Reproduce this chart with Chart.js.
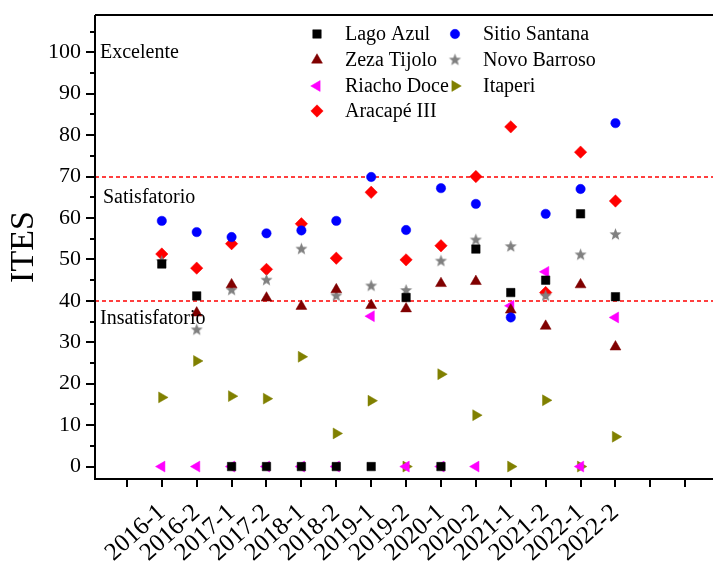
<!DOCTYPE html>
<html><head><meta charset="utf-8">
<script src="https://cdn.jsdelivr.net/npm/chart.js@4.4.1/dist/chart.umd.min.js"></script>
<style>html,body{margin:0;padding:0;background:#fff;overflow:hidden;}#wrap{width:713px;height:562px;}canvas{display:block;}</style>
</head><body><div id="wrap"><canvas id="c" width="713" height="562" style="width:713px;height:562px"></canvas></div>
<script>
// ---- data ----
const categories = ['2016-1','2016-2','2017-1','2017-2','2018-1','2018-2','2019-1','2019-2','2020-1','2020-2','2021-1','2021-2','2022-1','2022-2'];
const lagoAzul     = [48.9, 41.2, 0, 0, 0, 0, 0, 40.8, 0, 52.5, 42.0, 45.0, 61.0, 41.0];
const sitioSantana = [59.3, 56.6, 55.4, 56.3, 57.0, 59.3, 69.9, 57.1, 67.2, 63.4, 36.0, 61.0, 67.0, 82.9];
const zezaTijolo   = [null, 37.1, 43.9, 40.7, 38.7, 42.7, 38.9, 38.1, 44.2, 44.7, 37.8, 33.9, 43.9, 28.9];
const novoBarroso  = [49.5, 33.0, 42.6, 45.0, 52.5, 41.2, 43.6, 42.5, 49.6, 54.7, 53.1, 41.2, 51.1, 56.0];
const riachoDoce   = [0, 0, 0, 0, 0, 0, 36.3, 0, 0, 0, 38.8, 47.0, 0, 36.0];
const itaperi      = [16.7, 25.5, 17.0, 16.4, 26.5, 8.0, 15.9, 0, 22.3, 12.4, 0, 16.0, 0, 7.2];
const aracape      = [51.3, 47.9, 53.8, 47.6, 58.6, 50.3, 66.2, 49.9, 53.3, 70.0, 82.0, 42.0, 75.9, 64.1];
const seriesNames  = ['Lago Azul','Sitio Santana','Zeza Tijolo','Novo Barroso','Riacho Doce','Itaperi','Aracapé III'];
const yTickValues  = [0,10,20,30,40,50,60,70,80,90,100];
const yMinorValues = [5,15,25,35,45,55,65,75,85,95,105];
const xTickValues  = [-1,0,1,2,3,4,5,6,7,8,9,10,11,12,13,14,15];
const thresholds   = [70, 40];
const zoneLabels   = ['Excelente','Satisfatorio','Insatisfatorio'];

const FONT = '"Liberation Serif", "Times New Roman", serif';
Chart.defaults.font.family = FONT;
Chart.defaults.color = '#000';

function makeStar(color, R, r){
  const s = Math.ceil(2*R)+2;
  const c = document.createElement('canvas'); c.width = s; c.height = s;
  const g = c.getContext('2d'); g.fillStyle = color; g.beginPath();
  for(let i=0;i<10;i++){ const rr = i%2 ? r : R; const a = -Math.PI/2 + i*Math.PI/5;
    g.lineTo(s/2 + rr*Math.cos(a), s/2 + rr*Math.sin(a)); }
  g.closePath(); g.fill(); return c;
}
const star = makeStar('#808080', 6.4, 2.7);

const styles = [
  {color:'#000000', pointStyle:'rect', radius:6, rotation:0},
  {color:'#0000ff', pointStyle:'circle', radius:4.7, rotation:0},
  {color:'#800000', pointStyle:'triangle', radius:6.3, rotation:0},
  {color:'#808080', pointStyle:star, radius:6, rotation:0},
  {color:'#ff00ff', pointStyle:'triangle', radius:6.3, rotation:-90},
  {color:'#808000', pointStyle:'triangle', radius:6.3, rotation:90},
  {color:'#ff0000', pointStyle:'rectRot', radius:6.2, rotation:0}
];
const seriesValues = [lagoAzul, sitioSantana, zezaTijolo, novoBarroso, riachoDoce, itaperi, aracape];

const datasets = seriesValues.map((vals, i) => ({
  label: seriesNames[i],
  data: vals.map((v, k) => ({x: k, y: v})),
  pointStyle: styles[i].pointStyle,
  pointRotation: styles[i].rotation,
  pointRadius: styles[i].radius,
  pointHoverRadius: styles[i].radius,
  backgroundColor: styles[i].color,
  borderColor: styles[i].color,
  pointBorderWidth: 0.5,
  showLine: false
}));

const decor = {
  id: 'decor',
  beforeDatasetsDraw(chart){
    const {ctx, chartArea:a, scales:{y}} = chart;
    ctx.save();
    ctx.strokeStyle = 'rgb(255,0,0)'; ctx.lineWidth = 1.5; ctx.setLineDash([4,3]);
    thresholds.forEach(t => { const py = Math.round(y.getPixelForValue(t));
      ctx.beginPath(); ctx.moveTo(a.left, py); ctx.lineTo(chart.width, py); ctx.stroke(); });
    ctx.restore();
  },
  afterDatasetsDraw(chart){
    const {ctx, chartArea:a} = chart;
    ctx.save();
    ctx.fillStyle = '#000'; ctx.font = '20px ' + FONT; ctx.textAlign = 'left'; ctx.textBaseline = 'alphabetic';
    const pos = [[a.left+5, 58],[a.left+8, 203],[a.left+5, 324]];
    zoneLabels.forEach((t, i) => ctx.fillText(t, pos[i][0], pos[i][1]));
    ctx.restore();
  },
  afterDraw(chart){
    const {ctx, chartArea:a, scales:{x, y}} = chart;
    const R = chart.width;
    ctx.save();
    ctx.setLineDash([]);
    ctx.strokeStyle = '#000'; ctx.lineWidth = 2;
    ctx.beginPath();
    ctx.moveTo(a.left, a.top); ctx.lineTo(R, a.top);
    ctx.moveTo(a.left, a.top); ctx.lineTo(a.left, a.bottom);
    ctx.moveTo(a.left - 1, a.bottom); ctx.lineTo(R, a.bottom);
    ctx.stroke();
    ctx.beginPath();
    yTickValues.forEach(v => { const py = Math.round(y.getPixelForValue(v));
      ctx.moveTo(a.left - 9, py); ctx.lineTo(a.left, py); });
    yMinorValues.forEach(v => { const py = Math.round(y.getPixelForValue(v));
      ctx.moveTo(a.left - 5, py); ctx.lineTo(a.left, py); });
    xTickValues.forEach(v => { const px = Math.round(x.getPixelForValue(v));
      ctx.moveTo(px, a.bottom); ctx.lineTo(px, a.bottom + 8); });
    ctx.stroke();
    // legend
    const colMark = [317, 455], colText = [345, 483], rowY = [34, 60, 86, 111];
    ctx.font = '20px ' + FONT; ctx.textAlign = 'left'; ctx.textBaseline = 'middle';
    seriesNames.forEach((name, i) => {
      const c = i % 2, r = Math.floor(i / 2);
      const st = styles[i];
      ctx.fillStyle = st.color; ctx.strokeStyle = st.color; ctx.lineWidth = 0.5;
      Chart.helpers.drawPoint(ctx, {pointStyle: st.pointStyle, rotation: st.rotation, radius: st.radius, borderWidth: 0.5}, colMark[c], rowY[r]);
      ctx.fillStyle = '#000';
      ctx.fillText(name, colText[c], rowY[r] + 1);
    });
    ctx.restore();
  }
};

new Chart(document.getElementById('c'), {
  type: 'scatter',
  data: { datasets },
  options: {
    responsive: false, maintainAspectRatio: false, animation: false, devicePixelRatio: 1,
    layout: { padding: { top: 15, right: 0, left: 0, bottom: 0 } },
    plugins: { legend: { display: false }, tooltip: { enabled: false } },
    scales: {
      x: {
        type: 'linear', min: -1.914, max: 15.6,
        grid: { display: false, drawTicks: false }, border: { display: false },
        afterBuildTicks: s => { s.ticks = xTickValues.map(v => ({value: v})); },
        afterFit: s => { s.height = 83; s.paddingLeft = 0; s.paddingRight = 0; },
        ticks: { autoSkip: false, minRotation: 42, maxRotation: 42, padding: 19,
          font: { size: 25 }, color: '#000',
          callback: v => (categories[v] !== undefined ? categories[v] : '') }
      },
      y: {
        min: -3, max: 109,
        grid: { display: false, drawTicks: false }, border: { display: false },
        afterBuildTicks: s => { s.ticks = yTickValues.map(v => ({value: v})); },
        afterFit: s => { s.width = 95; s.paddingTop = 0; s.paddingBottom = 0; },
        ticks: { padding: 14, font: { size: 22 }, color: '#000' },
        title: { display: true, text: 'ITES', font: { size: 34 }, color: '#000', padding: { top: 4, bottom: 0 } }
      }
    }
  },
  plugins: [decor]
});
</script></body></html>
